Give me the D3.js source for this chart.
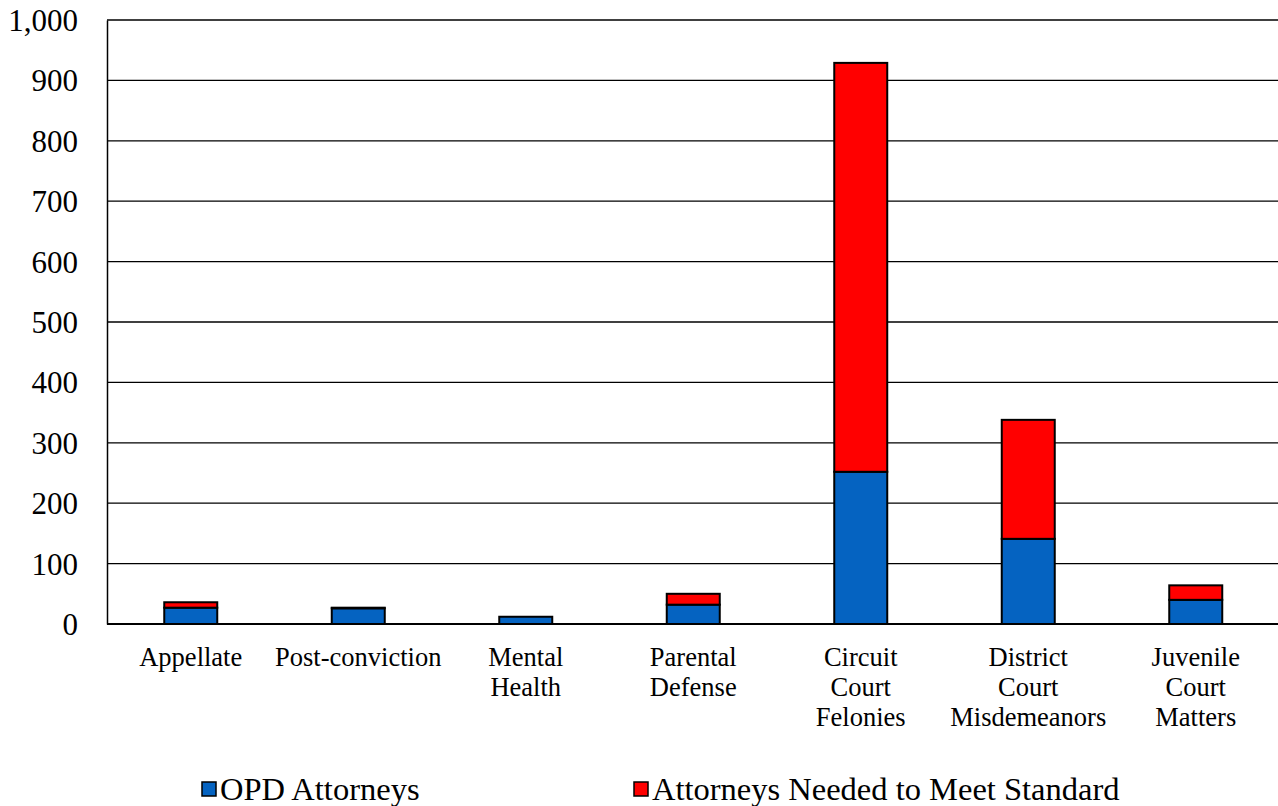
<!DOCTYPE html>
<html>
<head>
<meta charset="utf-8">
<script src="https://cdn.jsdelivr.net/npm/d3@7"></script>
<style>
  html, body { margin: 0; padding: 0; background: #fff; }
  svg { display: block; }
  svg text { font-family: "Liberation Serif", "Times New Roman", Times, serif; }
</style>
</head>
<body>
<svg id="chart" width="1278" height="806"></svg>
<script>
// Attorney staffing by case type
const categories = [
  ["Appellate"],
  ["Post-conviction"],
  ["Mental", "Health"],
  ["Parental", "Defense"],
  ["Circuit", "Court", "Felonies"],
  ["District", "Court", "Misdemeanors"],
  ["Juvenile", "Court", "Matters"]
];
const opdAttorneys   = [27, 26, 12, 32, 252, 141, 40];
const neededAttorneys = [9, 1, 0, 18, 677, 197, 24];
const yTicks = [0, 100, 200, 300, 400, 500, 600, 700, 800, 900, 1000];
const seriesNames = ["OPD Attorneys", "Attorneys Needed to Meet Standard"];
const seriesColors = ["#0563C1", "#FF0000"];

const svg = d3.select("#chart");
const plotLeft = 107, plotRight = 1279.5, plotTop = 20, plotBottom = 624;

const keys = categories.map(c => c.join(" "));
const rows = keys.map((k, i) => ({ key: k, opd: opdAttorneys[i], need: neededAttorneys[i] }));

const x = d3.scaleBand().domain(keys).range([plotLeft, plotRight]).padding(0);
const y = d3.scaleLinear().domain([0, 1000]).range([plotBottom, plotTop]);
const barW = 53;

// horizontal gridlines
svg.append("g")
  .selectAll("line")
  .data(yTicks.filter(t => t > 0))
  .join("line")
  .attr("x1", plotLeft).attr("x2", 1278)
  .attr("y1", d => y(d)).attr("y2", d => y(d))
  .attr("stroke", "#000").attr("stroke-width", 1.3);

// y axis labels
const yAxis = d3.axisLeft(y).tickValues(yTicks).tickFormat(d3.format(",")).tickSize(0).tickPadding(29);
const gy = svg.append("g").attr("transform", `translate(${plotLeft},0)`).call(yAxis);
gy.attr("font-family", null);
gy.select(".domain").attr("stroke", "#000").attr("stroke-width", 1.5);
gy.selectAll("text").attr("font-size", 31).attr("fill", "#000").attr("dy", "0.34em");

// stacked bars
const stack = d3.stack().keys(["opd", "need"]);
const layers = stack(rows);
svg.append("g")
  .selectAll("g")
  .data(layers)
  .join("g")
  .attr("fill", (d, i) => seriesColors[i])
  .selectAll("rect")
  .data(d => d.filter(s => s[1] - s[0] > 0))
  .join("rect")
  .attr("x", d => x(d.data.key) + (x.bandwidth() - barW) / 2)
  .attr("width", barW)
  .attr("y", d => y(d[1]))
  .attr("height", d => y(d[0]) - y(d[1]))
  .attr("stroke", "#000")
  .attr("stroke-width", 2);

// x axis baseline
svg.append("line")
  .attr("x1", plotLeft).attr("x2", 1278)
  .attr("y1", y(0)).attr("y2", y(0))
  .attr("stroke", "#000").attr("stroke-width", 2);

// category labels
const catG = svg.append("g")
  .selectAll("text")
  .data(categories)
  .join("text")
  .attr("x", (d, i) => x(keys[i]) + x.bandwidth() / 2)
  .attr("y", 666)
  .attr("text-anchor", "middle")
  .attr("font-size", 26.5)
  .attr("fill", "#000");
catG.selectAll("tspan")
  .data(d => d)
  .join("tspan")
  .attr("x", function () { return d3.select(this.parentNode).attr("x"); })
  .attr("dy", (d, i) => i === 0 ? 0 : 30)
  .text(d => d);

// legend
const legendX = [202, 634];
const lg = svg.append("g")
  .selectAll("g")
  .data(seriesNames)
  .join("g")
  .attr("transform", (d, i) => `translate(${legendX[i]},782)`);
lg.append("rect")
  .attr("width", 14).attr("height", 14)
  .attr("fill", (d, i) => seriesColors[i])
  .attr("stroke", "#000").attr("stroke-width", 1.5);
lg.append("text")
  .attr("x", 18).attr("y", 18)
  .attr("font-size", 32.5)
  .attr("fill", "#000")
  .text(d => d);
</script>
</body>
</html>
